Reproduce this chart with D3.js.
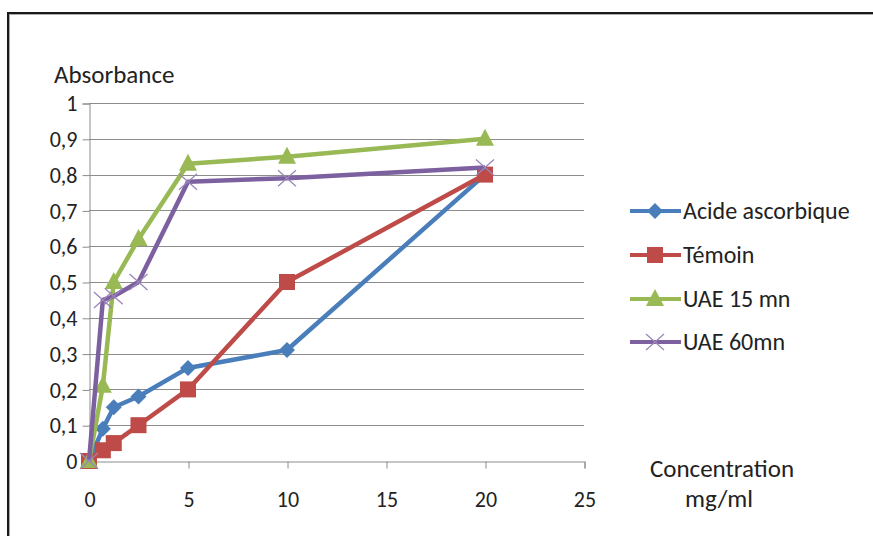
<!DOCTYPE html>
<html>
<head>
<meta charset="utf-8">
<script src="https://cdn.jsdelivr.net/npm/d3@7"></script>
<style>
  html, body { margin: 0; padding: 0; background: #fff; }
  svg text { font-family: Carlito, "Liberation Sans Narrow", "Open Sans", sans-serif; fill: #222; }
</style>
</head>
<body>
<svg id="chart" width="873" height="536"></svg>
<script>
// Concentrations (mg/ml) shared by all series
const concentrations = [0, 0.7, 1.25, 2.5, 5, 10, 20];

// Absorbance per extract
const acideAscorbique = [0, 0.09, 0.15, 0.18, 0.26, 0.31, 0.80];
const temoin = [0, 0.03, 0.05, 0.10, 0.20, 0.50, 0.80];
const uae15 = [0, 0.21, 0.50, 0.62, 0.83, 0.85, 0.90];
const uae60 = [0, 0.45, 0.46, 0.50, 0.78, 0.79, 0.82];

const seriesNames = ["Acide ascorbique", "Témoin", "UAE 15 mn", "UAE 60mn"];
const xTicks = [0, 5, 10, 15, 20, 25];
const yTicks = [0, 0.1, 0.2, 0.3, 0.4, 0.5, 0.6, 0.7, 0.8, 0.9, 1];

const series = [
  { name: seriesNames[0], values: acideAscorbique, color: "#4a7ebb", marker: "diamond" },
  { name: seriesNames[1], values: temoin, color: "#be4b48", marker: "square" },
  { name: seriesNames[2], values: uae15, color: "#98b954", marker: "triangle" },
  { name: seriesNames[3], values: uae60, color: "#7d60a0", marker: "cross" }
];

const svg = d3.select("#chart");

// chart frame
svg.append("rect").attr("x", 9.5).attr("y", 14.5).attr("width", 900).attr("height", 600)
  .attr("fill", "#fff").attr("stroke", "#aaa").attr("stroke-width", 1);
svg.append("path").attr("d", "M8,540 L8,13 L880,13")
  .attr("fill", "none").attr("stroke", "#1a1a1a").attr("stroke-width", 2);

const plot = { left: 89, right: 584, top: 103, bottom: 461 };
const x = d3.scaleLinear().domain([0, 25]).range([plot.left, plot.right]);
const y = d3.scaleLinear().domain([0, 1]).range([plot.bottom, plot.top]);

const fmt = d => d3.format(".1~f")(d).replace(".", ",");

// horizontal gridlines
svg.append("g").selectAll("line").data(yTicks.filter(d => d > 0)).join("line")
  .attr("x1", plot.left).attr("x2", plot.right)
  .attr("y1", d => Math.round(y(d)) + 0.5).attr("y2", d => Math.round(y(d)) + 0.5)
  .attr("stroke", "#8c8c8c").attr("stroke-width", 1);

// y axis
const yAxis = svg.append("g").attr("transform", `translate(${plot.left + 0.5},0.5)`)
  .call(d3.axisLeft(y).tickValues(yTicks).tickFormat(fmt).tickSize(7).tickPadding(5));
yAxis.select(".domain").attr("stroke", "#8c8c8c");
yAxis.selectAll(".tick line").attr("stroke", "#8c8c8c");
yAxis.selectAll(".tick text").attr("font-size", 22).attr("dy", "0.33em");

// x axis
const xAxis = svg.append("g").attr("transform", `translate(0.5,${plot.bottom + 0.5})`)
  .call(d3.axisBottom(x).tickValues(xTicks).tickFormat(d3.format("d")).tickSize(7).tickPadding(23));
xAxis.select(".domain").attr("stroke", "#8c8c8c");
xAxis.selectAll(".tick line").attr("stroke", "#8c8c8c");
xAxis.selectAll(".tick text").attr("font-size", 22);

// axis titles
svg.append("text").attr("x", 54).attr("y", 83).attr("font-size", 25).text("Absorbance");
svg.append("text").attr("x", 722).attr("y", 477).attr("text-anchor", "middle").attr("font-size", 25).text("Concentration");
svg.append("text").attr("x", 719).attr("y", 507).attr("text-anchor", "middle").attr("font-size", 25).text("mg/ml");

// marker shapes
function drawMarker(g, type, color, cx, cy) {
  if (type === "diamond") {
    g.append("path").attr("d", `M${cx},${cy - 8} L${cx + 8},${cy} L${cx},${cy + 8} L${cx - 8},${cy} Z`)
      .attr("fill", color);
  } else if (type === "square") {
    g.append("rect").attr("x", cx - 8).attr("y", cy - 8).attr("width", 16).attr("height", 16)
      .attr("fill", color);
  } else if (type === "triangle") {
    g.append("path").attr("d", `M${cx},${cy - 10} L${cx + 9},${cy + 7} L${cx - 9},${cy + 7} Z`)
      .attr("fill", color);
  } else if (type === "cross") {
    g.append("path").attr("d", `M${cx - 9},${cy - 8} L${cx + 9},${cy + 8} M${cx - 9},${cy + 8} L${cx + 9},${cy - 8}`)
      .attr("stroke", "#9a86b8").attr("stroke-width", 1.3).attr("fill", "none");
  }
}

const line = d3.line().x(d => x(d[0])).y(d => y(d[1]));

series.forEach(s => {
  const pts = concentrations.map((c, i) => [c, s.values[i]]);
  const g = svg.append("g");
  g.append("path").attr("d", line(pts)).attr("fill", "none")
    .attr("stroke", s.color).attr("stroke-width", 4.5).attr("stroke-linejoin", "round");
  pts.forEach(p => drawMarker(g, s.marker, s.color, x(p[0]), y(p[1])));
});

// legend
const legendY = [211, 255, 299, 342];
series.forEach((s, i) => {
  const g = svg.append("g");
  g.append("line").attr("x1", 630).attr("x2", 681).attr("y1", legendY[i]).attr("y2", legendY[i])
    .attr("stroke", s.color).attr("stroke-width", 4);
  drawMarker(g, s.marker, s.color, 655, legendY[i]);
  g.append("text").attr("x", 683).attr("y", legendY[i]).attr("dy", "0.35em")
    .attr("font-size", 24).text(s.name);
});
</script>
</body>
</html>
